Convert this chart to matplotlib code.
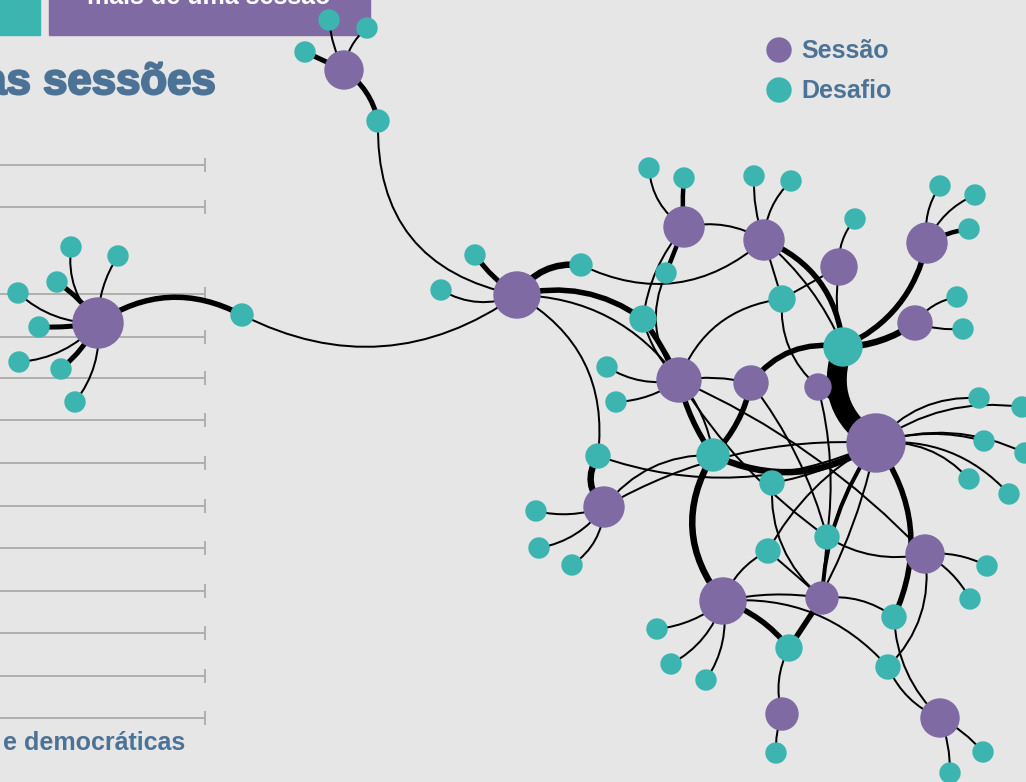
import matplotlib.pyplot as plt
import matplotlib.patheffects as pe
from matplotlib.patches import Circle, PathPatch, Rectangle
from matplotlib.path import Path

BG = '#e6e6e6'
PURPLE = '#7f6aa3'
TEAL = '#3cb5b1'
BLUE = '#4c7396'
GRID = '#b0b0b0'

# sessions (purple nodes): id, x, y, radius (px)
sessions = [
    ('s1', 344, 70, 19), ('s2', 98, 323, 25), ('s3', 517, 295, 23),
    ('s4', 684, 227, 20), ('s5', 764, 240, 20), ('s6', 839, 267, 18),
    ('s7', 927, 243, 20), ('s8', 915, 323, 17), ('s9', 679, 380, 22),
    ('s10', 751, 383, 17), ('s11', 818, 387, 13), ('s12', 876, 443, 29),
    ('s13', 604, 507, 20), ('s14', 723, 601, 23), ('s15', 822, 598, 16),
    ('s16', 925, 554, 19), ('s17', 782, 714, 16), ('s18', 940, 718, 19),
]

# challenges (teal nodes)
challenges = [
    ('c1', 329, 20, 10), ('c2', 367, 28, 10), ('c3', 305, 52, 10), ('c4', 378, 121, 11),
    ('c5', 71, 247, 10), ('c6', 118, 256, 10), ('c7', 57, 282, 10), ('c8', 18, 293, 10),
    ('c9', 39, 327, 10), ('c10', 19, 362, 10), ('c11', 61, 369, 10), ('c12', 75, 402, 10),
    ('c13', 242, 315, 11), ('c14', 475, 255, 10), ('c15', 441, 290, 10), ('c16', 581, 265, 11),
    ('c17', 666, 273, 10), ('c18', 649, 168, 10), ('c19', 684, 178, 10), ('c20', 754, 176, 10),
    ('c21', 791, 181, 10), ('c22', 855, 219, 10), ('c23', 940, 186, 10), ('c24', 975, 195, 10),
    ('c25', 969, 229, 10), ('c26', 782, 299, 13), ('c27', 643, 319, 13), ('c28', 843, 347, 19),
    ('c29', 957, 297, 10), ('c30', 963, 329, 10), ('c31', 607, 367, 10), ('c32', 616, 402, 10),
    ('c33', 713, 455, 16), ('c34', 598, 456, 12), ('c35', 772, 483, 12), ('c36', 979, 398, 10),
    ('c37', 1022, 407, 10), ('c38', 984, 441, 10), ('c39', 1025, 453, 10), ('c40', 969, 479, 10),
    ('c41', 1009, 494, 10), ('c42', 536, 511, 10), ('c43', 539, 548, 10), ('c44', 572, 565, 10),
    ('c45', 827, 537, 12), ('c46', 768, 551, 12), ('c47', 894, 617, 12), ('c48', 888, 667, 12),
    ('c49', 789, 648, 13), ('c50', 657, 629, 10), ('c51', 671, 664, 10), ('c52', 706, 680, 10),
    ('c53', 987, 566, 10), ('c54', 970, 599, 10), ('c55', 776, 753, 10), ('c56', 983, 752, 10),
    ('c57', 950, 773, 10),
]

# links: source, target, width (px), bend
edges = [
    ('s1', 'c1', 2, 0.1), ('s1', 'c2', 2, 0.2), ('s1', 'c3', 5, 0.0), ('s1', 'c4', 5, 0.2),
    ('c4', 's3', 2, -0.42),
    ('s2', 'c5', 2, 0.25), ('s2', 'c6', 2, 0.15), ('s2', 'c7', 5, -0.1), ('s2', 'c8', 2, 0.2),
    ('s2', 'c9', 5, 0.05), ('s2', 'c10', 2, 0.2), ('s2', 'c11', 5, 0.1), ('s2', 'c12', 2, 0.2),
    ('s2', 'c13', 5.5, 0.3), ('c13', 's3', 2, -0.3),
    ('s3', 'c14', 5, 0.1), ('s3', 'c15', 2, 0.25), ('s3', 'c16', 6.5, 0.3), ('s3', 'c27', 5.5, 0.23),
    ('s3', 's9', 2, 0.25), ('s3', 'c34', 2, 0.33),
    ('c16', 's5', 2, -0.33),
    ('s4', 'c18', 2, 0.25), ('s4', 'c19', 4.5, 0.05), ('s4', 'c17', 4.5, 0.0), ('s4', 's5', 2, 0.2),
    ('s4', 'c27', 2, -0.15), ('c17', 's9', 2, -0.3),
    ('s5', 'c20', 2, 0.1), ('s5', 'c21', 2, 0.2), ('s5', 'c28', 5.5, 0.3), ('s5', 'c28', 2, 0.12),
    ('s5', 'c26', 2, 0.0),
    ('c26', 's11', 2, -0.25), ('c26', 's9', 2, -0.3),
    ('s6', 'c22', 2, 0.2), ('s6', 'c26', 2, 0.0), ('s6', 'c28', 2, -0.1),
    ('s7', 'c23', 2, 0.2), ('s7', 'c24', 2, 0.2), ('s7', 'c25', 4.5, 0.1), ('s7', 'c28', 5.5, 0.25),
    ('s8', 'c29', 2, 0.2), ('s8', 'c30', 2, -0.1), ('s8', 'c28', 6.5, 0.15),
    ('c28', 's12', 20, -0.4), ('s10', 'c28', 5.5, 0.3),
    ('s9', 'c31', 2, 0.2), ('s9', 'c32', 2, 0.15), ('c27', 's9', 5.5, 0.05), ('c27', 's9', 2, -0.15),
    ('s9', 's10', 2, 0.1), ('s9', 'c33', 5.5, -0.1), ('s9', 'c33', 2, 0.15), ('s9', 'c45', 2, -0.1),
    ('s10', 'c33', 5.5, 0.15),
    ('s11', 's12', 2, 0.0), ('s11', 'c45', 2, 0.1),
    ('c33', 's12', 6.5, -0.28), ('c35', 's12', 2, -0.1),
    ('s12', 'c36', 2, 0.25), ('s12', 'c37', 2, 0.2), ('s12', 'c38', 2, 0.15), ('s12', 'c39', 2, 0.2),
    ('s12', 'c40', 2, 0.25), ('s12', 'c41', 2, 0.25),
    ('s12', 'c47', 5.5, 0.29), ('s12', 'c49', 2, 0.1), ('s12', 's15', 4, -0.15),
    ('s13', 'c42', 2, 0.15), ('s13', 'c43', 2, 0.2), ('s13', 'c44', 2, 0.25), ('c34', 's13', 6.5, -0.4),
    ('s13', 'c33', 2, 0.25), ('s13', 's12', 2, 0.15), ('c34', 's12', 2, -0.2),
    ('s14', 'c50', 2, 0.15), ('s14', 'c51', 2, 0.2), ('s14', 'c52', 2, 0.2), ('s14', 'c46', 2, 0.2),
    ('s14', 'c49', 5.5, 0.15), ('c33', 's14', 6.5, -0.35), ('s14', 's15', 2, 0.1), ('s14', 'c48', 2, 0.25),
    ('c49', 's15', 5.5, 0.0), ('s15', 'c45', 2, 0.0), ('s15', 'c47', 2, 0.2), ('s15', 'c46', 2, 0.0),
    ('c45', 's16', 2, -0.2), ('c46', 's12', 2, 0.15), ('c35', 's15', 2, -0.25),
    ('c49', 's17', 2, -0.2),
    ('s16', 'c53', 2, 0.15), ('s16', 'c54', 2, 0.15), ('s16', 'c48', 2, 0.25),
    ('c48', 's18', 2, -0.2), ('c47', 's18', 2, -0.2),
    ('s17', 'c55', 2, -0.1), ('s18', 'c56', 2, 0.1), ('s18', 'c57', 2, 0.1),
    ('s9', 's16', 2, 0.1), ('s10', 'c45', 2, 0.1),
]

# background guide lines on the left
guide_y = [165, 207, 294, 336.5, 378, 420, 463, 505.5, 548, 591, 632.5, 675.5, 717.5]

PX = 72 / 100  # pixel -> point at dpi 100

fig = plt.figure(figsize=(10.26, 7.82), dpi=100, facecolor=BG)
ax = fig.add_axes([0, 0, 1, 1])
ax.set_xlim(0, 1026)
ax.set_ylim(782, 0)
ax.set_facecolor(BG)
ax.axis('off')

# guide lines
for y in guide_y:
    ax.plot([-5, 205], [y, y], color=GRID, lw=2 * PX, zorder=0)
    ax.plot([205, 205], [y - 6, y + 6], color=GRID, lw=2 * PX, zorder=0)

# header boxes (cropped at the top edge, as in the source)
ax.add_patch(Rectangle((-5, -5), 45, 40, color=TEAL, zorder=1))
ax.add_patch(Rectangle((49, -5), 321, 40, color=PURPLE, zorder=1))
ax.text(209, 4, 'mais de uma sessão', color='white', fontsize=18, fontweight='bold',
        family='Liberation Sans', ha='center', va='baseline', zorder=2)

# title, heavy face imitated with a stroke in the same colour
ax.text(216, 94, 'das sessões', color=BLUE, fontsize=31.5, fontweight='bold',
        family='Liberation Sans', ha='right', va='baseline', zorder=2,
        path_effects=[pe.withStroke(linewidth=1.6, foreground=BLUE)])
ax.text(3, 750, 'e democráticas', color=BLUE, fontsize=18, fontweight='bold',
        family='Liberation Sans', ha='left', va='baseline', zorder=2)

# legend
ax.add_patch(Circle((779, 50), 12, color=PURPLE, zorder=2))
ax.add_patch(Circle((779, 90), 12, color=TEAL, zorder=2))
ax.text(801, 58, 'Sessão', color=BLUE, fontsize=18, fontweight='bold',
        family='Liberation Sans', va='baseline')
ax.text(801, 98, 'Desafio', color=BLUE, fontsize=18, fontweight='bold',
        family='Liberation Sans', va='baseline')

pos = {}
for nid, x, y, r in sessions + challenges:
    pos[nid] = (x, y)

# edges as quadratic curves
for a, b, w, bend in edges:
    x1, y1 = pos[a]
    x2, y2 = pos[b]
    dx, dy = x2 - x1, y2 - y1
    cx = (x1 + x2) / 2 + bend * dy
    cy = (y1 + y2) / 2 - bend * dx
    path = Path([(x1, y1), (cx, cy), (x2, y2)], [Path.MOVETO, Path.CURVE3, Path.CURVE3])
    ax.add_patch(PathPatch(path, fill=False, edgecolor='black', lw=w * PX,
                           capstyle='round', zorder=3))

for nid, x, y, r in sessions:
    ax.add_patch(Circle((x, y), r, color=PURPLE, zorder=4))
for nid, x, y, r in challenges:
    ax.add_patch(Circle((x, y), r, color=TEAL, zorder=4))

fig.savefig('out.png', dpi=100, facecolor=BG)
